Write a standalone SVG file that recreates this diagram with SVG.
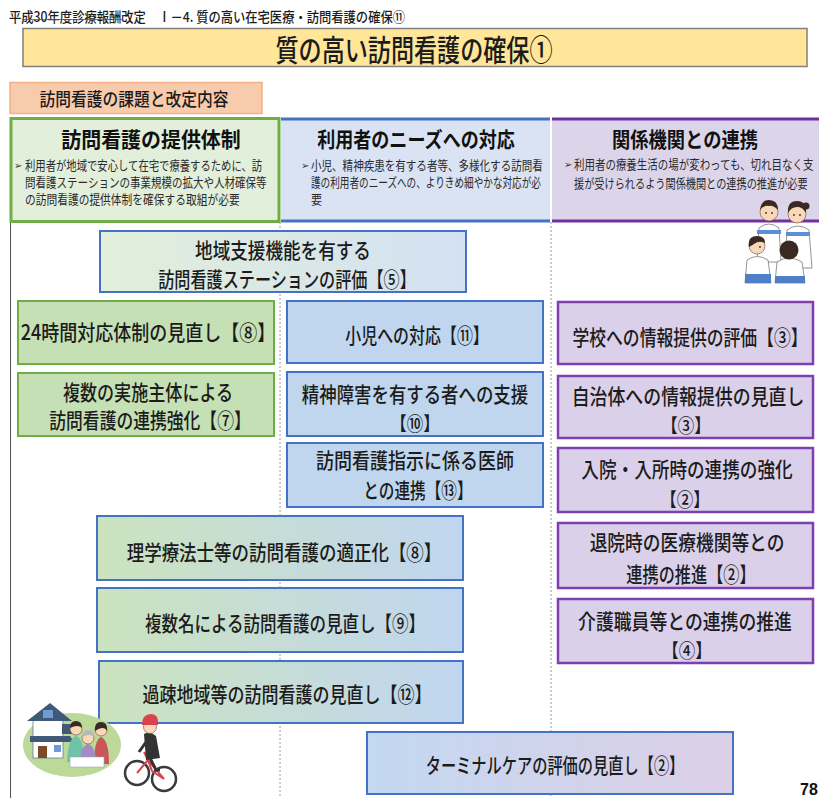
<svg xmlns="http://www.w3.org/2000/svg" width="819" height="798" viewBox="0 0 819 798">
  <defs>
    <linearGradient id="gSupport" x1="0" y1="0" x2="1" y2="0">
      <stop offset="0" stop-color="#E2EFDA"/>
      <stop offset="1" stop-color="#D3E1F3"/>
    </linearGradient>
    <linearGradient id="gGreenBlue" x1="0" y1="0" x2="1" y2="0">
      <stop offset="0" stop-color="#CCE3BE"/>
      <stop offset="1" stop-color="#C0D6F0"/>
    </linearGradient>
    <linearGradient id="gBluePurple" x1="0" y1="0" x2="1" y2="0">
      <stop offset="0" stop-color="#C3D8F1"/>
      <stop offset="1" stop-color="#DCCFE6"/>
    </linearGradient>
    <style>
      .jp { font-family: "Noto Sans CJK JP", "Noto Sans", sans-serif; fill: #1c1c1c; font-weight: 500; }
      .box-text { font-size: 21px; text-anchor: middle; }
      .bracket { font-size: 19px; text-anchor: middle; }
      .head-title { font-size: 21px; font-weight: bold; text-anchor: middle; fill: #111; }
      .body { font-size: 13px; fill: #2a2a2a; font-weight: 400; }
      .bullet { font-family: "DejaVu Sans", sans-serif; font-size: 10px; fill: #333; }
      .green { fill: #C6E0B5; stroke: #70AD47; stroke-width: 2; }
      .blue { fill: #BFD6EE; stroke: #4472C4; stroke-width: 2; }
      .purple { fill: #DAD0E9; stroke: #7F3FB0; stroke-width: 2.5; }
      .mixed { stroke: #4472C4; stroke-width: 2; }
      .divider { stroke: #9A9A9A; stroke-width: 1; stroke-dasharray: 2 2; fill: none; }
      .skin { fill: #F8D8B8; stroke: #6B4A3A; stroke-width: 0.6; }
      .hair { fill: #3A2A22; }
      .uniform { fill: #FFFFFF; stroke: #7A7A7A; stroke-width: 0.8; }
    </style>
  </defs>

  <rect x="0" y="0" width="819" height="798" fill="#FFFFFF"/>

  <!-- slide caption -->
  <g id="caption">
    <text class="jp" x="9" y="22" font-size="14" font-weight="400" textLength="396" lengthAdjust="spacingAndGlyphs">平成30年度診療報酬改定　Ⅰ－4. 質の高い在宅医療・訪問看護の確保⑪</text>
    <line x1="22" y1="19.5" x2="122" y2="19.5" stroke="#555" stroke-width="0.8"/>
  </g>

  <!-- title banner -->
  <g id="title">
    <rect x="23" y="28.5" width="784" height="38" fill="#FFE699" stroke="#808080" stroke-width="1.5"/>
    <text class="jp" transform="translate(414 61) scale(0.77 1)" font-size="30" text-anchor="middle" fill="#111">質の高い訪問看護の確保①</text>
  </g>

  <!-- section label -->
  <g id="section-label">
    <rect x="10" y="82.5" width="252" height="31" fill="#F8CBAD" stroke="#F4B183" stroke-width="1.5"/>
    <text class="jp" transform="translate(134 106) scale(0.875 1)" font-size="18" text-anchor="middle">訪問看護の課題と改定内容</text>
  </g>

  <!-- column dividers -->
  <g id="connectors">
    <line x1="10.5" y1="222" x2="10.5" y2="798" stroke="#555" stroke-width="1"/>
    <line class="divider" x1="280" y1="222" x2="280" y2="798"/>
    <line class="divider" x1="551" y1="222" x2="551" y2="798"/>
  </g>

  <!-- column headers -->
  <g id="header-provision">
    <rect x="11" y="118.5" width="268" height="103" fill="#E2EFDA" stroke="#70AD47" stroke-width="3"/>
    <text class="jp head-title" transform="translate(151 147) scale(0.95 1)">訪問看護の提供体制</text>
    <text class="bullet" x="14" y="169">➢</text>
    <text class="jp body" transform="translate(25 170) scale(0.796 1)">利用者が地域で安心して在宅で療養するために、訪</text>
    <text class="jp body" transform="translate(25 187) scale(0.81 1)">問看護ステーションの事業規模の拡大や人材確保等</text>
    <text class="jp body" transform="translate(25 204) scale(0.827 1)">の訪問看護の提供体制を確保する取組が必要</text>
  </g>

  <g id="header-needs">
    <rect x="281" y="118.5" width="269" height="103" fill="#DAE3F3"/>
    <line x1="281" y1="119" x2="550" y2="119" stroke="#4472C4" stroke-width="3"/>
    <line x1="281" y1="221" x2="550" y2="221" stroke="#4472C4" stroke-width="3"/>
    <text class="jp head-title" transform="translate(416 147) scale(0.86 1)">利用者のニーズへの対応</text>
    <text class="bullet" x="301" y="169">➢</text>
    <text class="jp body" transform="translate(311 170) scale(0.811 1)">小児、精神疾患を有する者等、多様化する訪問看</text>
    <text class="jp body" transform="translate(311 187) scale(0.74 1)">護の利用者のニーズへの、よりきめ細やかな対応が必</text>
    <text class="jp body" transform="translate(311 204) scale(0.85 1)">要</text>
  </g>

  <g id="header-partners">
    <rect x="552" y="118.5" width="267" height="103" fill="#DCD5EA"/>
    <line x1="552" y1="119" x2="819" y2="119" stroke="#7030A0" stroke-width="3"/>
    <line x1="552" y1="221" x2="819" y2="221" stroke="#7030A0" stroke-width="3"/>
    <text class="jp head-title" transform="translate(685 147) scale(0.87 1)">関係機関との連携</text>
    <text class="bullet" x="564" y="168">➢</text>
    <text class="jp body" transform="translate(574 169) scale(0.806 1)">利用者の療養生活の場が変わっても、切れ目なく支</text>
    <text class="jp body" transform="translate(574 188) scale(0.783 1)">援が受けられるよう関係機関との連携の推進が必要</text>
  </g>

  <!-- nurses talking together -->
  <g id="nurses-illustration">
    <!-- back left nurse -->
    <path class="uniform" d="M757 262 L759 228 Q769 220 779 228 L781 262 Z"/>
    <rect x="757" y="230" width="24" height="4" fill="#5B8FD6"/>
    <circle class="skin" cx="769" cy="212" r="9"/>
    <path class="hair" d="M760 210 Q761 200 769 200 Q778 200 778 210 Q773 205 769 206 Q764 205 760 210 Z"/>
    <circle cx="766" cy="213" r="0.9" fill="#333"/>
    <circle cx="772" cy="213" r="0.9" fill="#333"/>
    <!-- back right nurse -->
    <path class="uniform" d="M785 268 L787 230 Q798 222 809 230 L812 268 Z"/>
    <rect x="786" y="232" width="24" height="4" fill="#5B8FD6"/>
    <circle class="skin" cx="797" cy="214" r="9"/>
    <path class="hair" d="M788 213 Q787 201 797 201 Q807 201 806 213 Q802 206 797 207 Q791 207 788 213 Z"/>
    <circle class="hair" cx="806" cy="206" r="3.5"/>
    <circle cx="794" cy="215" r="0.9" fill="#333"/>
    <circle cx="800" cy="215" r="0.9" fill="#333"/>
    <!-- front left nurse -->
    <path class="uniform" d="M745 283 L747 260 Q757 253 768 260 L771 283 Z"/>
    <rect x="745" y="274" width="26" height="9" fill="#4F7FC4"/>
    <circle class="skin" cx="757" cy="246" r="8"/>
    <path class="hair" d="M749 247 Q747 236 757 236 Q765 236 765 243 Q759 240 754 244 Q751 246 749 247 Z"/>
    <circle cx="760" cy="247" r="0.9" fill="#333"/>
    <!-- front nurse seen from behind -->
    <path class="uniform" d="M775 283 L777 262 Q789 254 802 262 L805 283 Z"/>
    <rect x="775" y="276" width="30" height="7" fill="#4F7FC4"/>
    <circle class="hair" cx="789" cy="250" r="9.5"/>
  </g>

  <!-- nodes -->
  <g id="node-support-station">
    <rect x="100" y="231" width="366" height="61" fill="url(#gSupport)" stroke="#4472C4" stroke-width="2"/>
    <text class="jp box-text" transform="translate(283 258) scale(0.838 1)">地域支援機能を有する</text>
    <text class="jp box-text" transform="translate(287 287) scale(0.768 1)">訪問看護ステーションの評価【⑤】</text>
  </g>

  <g id="node-24h">
    <rect class="green" x="18" y="301" width="256" height="63"/>
    <text class="jp box-text" transform="translate(148 340) scale(0.858 1)">24時間対応体制の見直し【⑧】</text>
  </g>

  <g id="node-multi-provider">
    <rect class="green" x="18" y="373" width="256" height="63"/>
    <text class="jp box-text" transform="translate(148 400) scale(0.814 1)">複数の実施主体による</text>
    <text class="jp box-text" transform="translate(150 428) scale(0.8 1)">訪問看護の連携強化【⑦】</text>
  </g>

  <g id="node-children">
    <rect class="blue" x="287" y="301" width="256" height="62"/>
    <text class="jp box-text" transform="translate(417 343) scale(0.76 1)">小児への対応【⑪】</text>
  </g>

  <g id="node-mental">
    <rect class="blue" x="287" y="372" width="256" height="64"/>
    <text class="jp box-text" transform="translate(415 402) scale(0.83 1)">精神障害を有する者への支援</text>
    <text class="jp bracket" transform="translate(415 431) scale(0.87 1)">【⑩】</text>
  </g>

  <g id="node-physician">
    <rect class="blue" x="287" y="443" width="256" height="64"/>
    <text class="jp box-text" transform="translate(415 468) scale(0.857 1)">訪問看護指示に係る医師</text>
    <text class="jp box-text" transform="translate(418 498) scale(0.745 1)" font-size="20">との連携【⑬】</text>
  </g>

  <g id="node-school">
    <rect class="purple" x="558" y="302" width="255" height="62"/>
    <text class="jp box-text" transform="translate(690 345) scale(0.8 1)">学校への情報提供の評価【③】</text>
  </g>

  <g id="node-municipality">
    <rect class="purple" x="558" y="376" width="255" height="62"/>
    <text class="jp box-text" transform="translate(688 404) scale(0.853 1)">自治体への情報提供の見直し</text>
    <text class="jp bracket" transform="translate(686 433) scale(0.87 1)">【③】</text>
  </g>

  <g id="node-admission">
    <rect class="purple" x="558" y="448" width="255" height="64"/>
    <text class="jp box-text" transform="translate(687 477) scale(0.84 1)">入院・入所時の連携の強化</text>
    <text class="jp bracket" transform="translate(685 507) scale(0.87 1)">【②】</text>
  </g>

  <g id="node-discharge">
    <rect class="purple" x="558" y="523" width="255" height="65"/>
    <text class="jp box-text" transform="translate(687 550) scale(0.844 1)">退院時の医療機関等との</text>
    <text class="jp box-text" transform="translate(691 582) scale(0.77 1)">連携の推進【②】</text>
  </g>

  <g id="node-care-staff">
    <rect class="purple" x="558" y="599" width="255" height="64"/>
    <text class="jp box-text" transform="translate(685 629) scale(0.85 1)">介護職員等との連携の推進</text>
    <text class="jp bracket" transform="translate(687 658) scale(0.87 1)">【④】</text>
  </g>

  <g id="node-therapist">
    <rect class="mixed" x="97" y="516" width="366" height="64" fill="url(#gGreenBlue)"/>
    <text class="jp box-text" transform="translate(284 560) scale(0.833 1)">理学療法士等の訪問看護の適正化【⑧】</text>
  </g>

  <g id="node-multi-staff">
    <rect class="mixed" x="97" y="588" width="366" height="64" fill="url(#gGreenBlue)"/>
    <text class="jp box-text" transform="translate(285 631) scale(0.787 1)">複数名による訪問看護の見直し【⑨】</text>
  </g>

  <g id="node-rural">
    <rect class="mixed" x="99" y="661" width="364" height="62" fill="url(#gGreenBlue)"/>
    <text class="jp box-text" transform="translate(287 702) scale(0.81 1)">過疎地域等の訪問看護の見直し【⑫】</text>
  </g>

  <g id="node-terminal">
    <rect class="mixed" x="367" y="732" width="366" height="62" fill="url(#gBluePurple)"/>
    <text class="jp box-text" transform="translate(555 773) scale(0.725 1)">ターミナルケアの評価の見直し【②】</text>
  </g>

  <!-- home visit scene -->
  <g id="home-visit-illustration">
    <ellipse cx="72" cy="745" rx="49" ry="32" fill="#BCD99A"/>
    <rect x="33" y="718" width="30" height="40" fill="#FFFFFF" stroke="#6A7A90" stroke-width="0.8"/>
    <polygon points="27,721 50,703 72,721" fill="#3F5A78"/>
    <polygon points="30,736 70,736 74,742 30,742" fill="#3F5A78"/>
    <rect x="43" y="710" width="10" height="8" fill="#6E9BD1"/>
    <rect x="54" y="745" width="7" height="7" fill="#6E9BD1"/>
    <rect x="38" y="746" width="9" height="12" fill="#7A4A2A"/>
    <rect x="62" y="724" width="18" height="10" fill="#3F5A78"/>
    <!-- family -->
    <path d="M67 762 Q68 738 76 736 Q84 738 84 762 Z" fill="#6FC3A8"/>
    <circle class="skin" cx="76" cy="729" r="6"/>
    <path class="hair" d="M70 728 Q70 721 76 721 Q82 721 82 728 Q78 724 70 728 Z"/>
    <path d="M94 764 Q94 740 101 737 Q109 740 109 764 Z" fill="#C9575A"/>
    <circle class="skin" cx="101" cy="730" r="6"/>
    <path class="hair" d="M95 731 Q94 722 101 722 Q108 722 107 731 Q104 725 95 731 Z"/>
    <path d="M80 764 Q80 746 88 744 Q96 746 96 764 Z" fill="#A58BC5"/>
    <circle class="skin" cx="88" cy="738" r="6"/>
    <path d="M82 737 Q82 730 88 730 Q94 730 94 737 Q90 733 82 737 Z" fill="#B8B8B8"/>
    <rect x="70" y="757" width="34" height="10" fill="#FFFFFF" stroke="#9AA" stroke-width="0.6"/>
  </g>

  <!-- cyclist -->
  <g id="cyclist-illustration">
    <circle cx="137" cy="773" r="12" fill="none" stroke="#3A3A3A" stroke-width="2.5"/>
    <circle cx="164" cy="779" r="12" fill="none" stroke="#3A3A3A" stroke-width="2.5"/>
    <polyline points="137,773 148,760 164,779 152,771 148,760" fill="none" stroke="#D9434E" stroke-width="2"/>
    <line x1="148" y1="760" x2="144" y2="752" stroke="#D9434E" stroke-width="2"/>
    <path d="M144 734 Q150 730 156 736 L160 758 L146 760 Z" fill="#333333"/>
    <path d="M150 758 L156 770 L160 770" fill="none" stroke="#333" stroke-width="3"/>
    <line x1="146" y1="742" x2="139" y2="752" stroke="#333" stroke-width="3"/>
    <circle class="skin" cx="150" cy="727" r="6.5"/>
    <path d="M142 725 Q142 714 151 714 Q159 714 158 725 Z" fill="#D9434E"/>
  </g>

  <!-- page number -->
  <text id="page-number" x="800" y="795" font-family="Liberation Sans, Arial, sans-serif" font-size="16" font-weight="bold" fill="#111">78</text>
</svg>
